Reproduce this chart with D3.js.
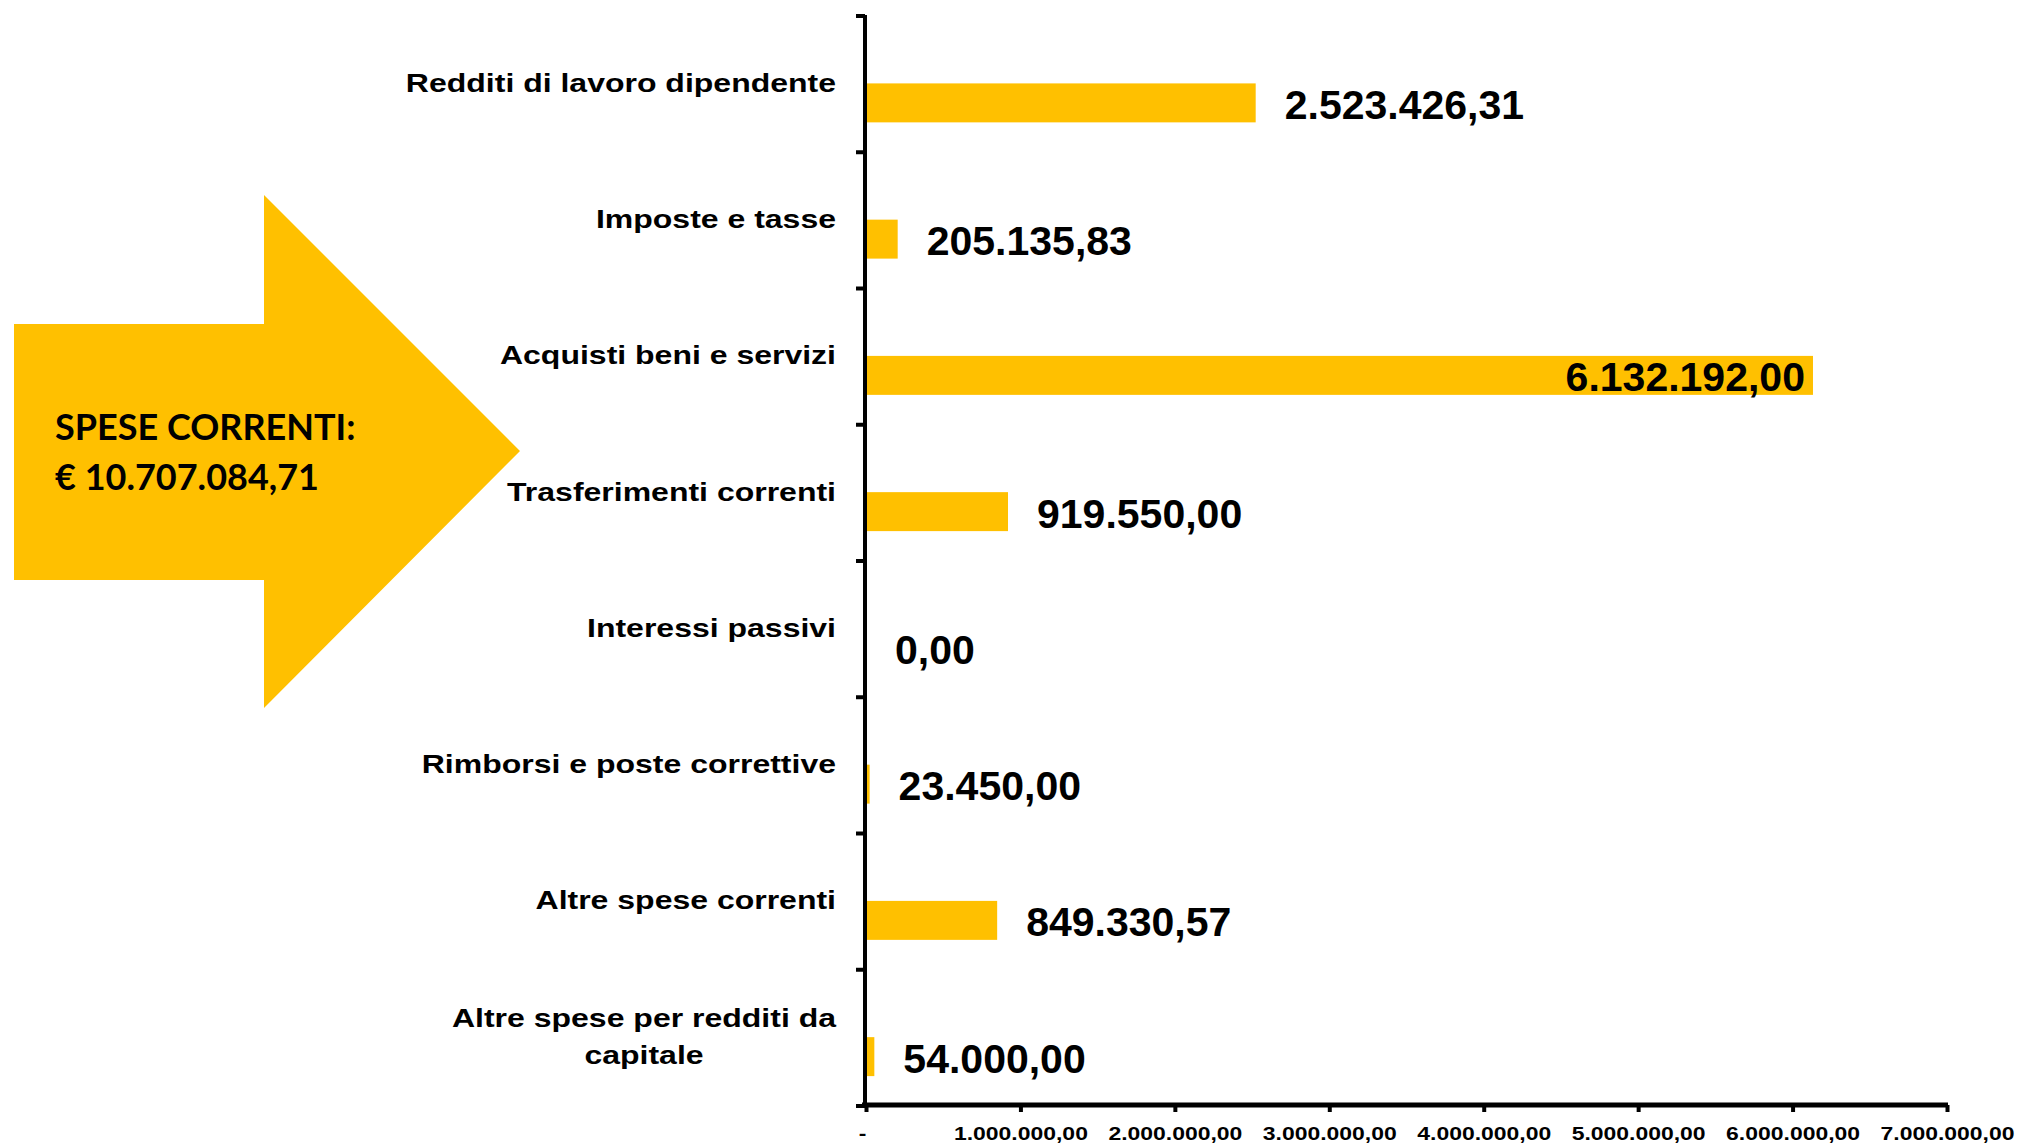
<!DOCTYPE html>
<html>
<head>
<meta charset="utf-8">
<script src="https://cdn.jsdelivr.net/npm/d3@7"></script>
<style>
  html, body { margin: 0; padding: 0; background: #fff; }
  svg { display: block; }
</style>
</head>
<body>
<svg id="chart" width="2022" height="1145"></svg>
<script>
// ---- data ----
const categories = [
  "Redditi di lavoro dipendente",
  "Imposte e tasse",
  "Acquisti beni e servizi",
  "Trasferimenti correnti",
  "Interessi passivi",
  "Rimborsi e poste correttive",
  "Altre spese correnti",
  "Altre spese per redditi da capitale"
];
const values = [2523426.31, 205135.83, 6132192.00, 919550.00, 0.00, 23450.00, 849330.57, 54000.00];
const xTickValues = [0, 1000000, 2000000, 3000000, 4000000, 5000000, 6000000, 7000000];
const calloutLines = ["SPESE CORRENTI:", "€ 10.707.084,71"];

// ---- setup ----
const W = 2022, H = 1145;
const svg = d3.select("#chart");
const gold = "#FFC000";
const pLeft = 866, pRight = 1947, pTop = 15, pBottom = 1105;

const it = d3.formatLocale({decimal: ",", thousands: ".", grouping: [3], currency: ["€ ", ""]});
const fmt = it.format(",.2f");

const x = d3.scaleLinear().domain([0, 7000000]).range([pLeft, pRight]);
const y = d3.scaleBand().domain(categories).range([pTop, pBottom]).padding(0);
const bw = y.bandwidth();
const barOff = 0.502 * bw, barH = 0.286 * bw;

// ---- callout arrow ----
const arrowPts = [[14,324],[264,324],[264,195],[520,451],[264,708],[264,580],[14,580]];
svg.append("polygon")
  .attr("points", arrowPts.map(p => p.join(",")).join(" "))
  .attr("fill", gold);
svg.append("g").selectAll("text").data(calloutLines).join("text")
  .attr("x", 55)
  .attr("y", (d, i) => 440 + i * 50)
  .attr("font-family", "Lato, 'Open Sans', sans-serif")
  .attr("font-weight", 700)
  .attr("font-size", 36)
  .attr("fill", "#000")
  .text(d => d);

// ---- bars ----
svg.append("g").selectAll("rect").data(values).join("rect")
  .attr("x", x(0))
  .attr("y", (d, i) => y(categories[i]) + barOff)
  .attr("width", d => x(d) - x(0))
  .attr("height", barH)
  .attr("fill", gold);

// ---- value labels ----
const vg = svg.append("g")
  .attr("font-family", "'Liberation Sans', Arial, sans-serif")
  .attr("font-weight", 700)
  .attr("font-size", 41)
  .attr("fill", "#000");
vg.selectAll("text").data(values).join("text")
  .attr("y", (d, i) => y(categories[i]) + barOff + barH / 2 + 2)
  .attr("dominant-baseline", "central")
  .text(d => fmt(d))
  .each(function(d) {
    const t = d3.select(this);
    const w = this.getComputedTextLength();
    const outside = x(d) + 29;
    if (outside + w > W - 5) {
      t.attr("x", x(d) - 8).attr("text-anchor", "end");
    } else {
      t.attr("x", outside).attr("text-anchor", "start");
    }
  });

// ---- category labels (wrapped like the original) ----
const catX = 836;
const cg = svg.append("g")
  .attr("font-family", "'Liberation Sans', Arial, sans-serif")
  .attr("font-weight", 700)
  .attr("font-size", 25.6)
  .attr("fill", "#000");
const sx = 1.25;
const maxW = 450;
categories.forEach(c => {
  const cy = y(c) + bw / 2;
  const g = cg.append("g").attr("transform", `translate(${catX},${cy}) scale(${sx},1)`);
  const words = c.split(" ");
  const measure = s => { const p = g.append("text").text(s); const ww = p.node().getComputedTextLength(); p.remove(); return ww; };
  let lines = [c];
  if (measure(c) * sx > maxW) {
    lines = [];
    let cur = [];
    words.forEach(wd => {
      const test = cur.concat(wd).join(" ");
      if (measure(test) * sx > maxW && cur.length) { lines.push(cur.join(" ")); cur = [wd]; }
      else cur.push(wd);
    });
    lines.push(cur.join(" "));
  }
  const lh = 37;
  const wMax = d3.max(lines.map(measure));
  lines.forEach((l, i) => {
    g.append("text")
      .attr("x", lines.length > 1 ? -wMax / 2 : 0)
      .attr("y", (i - (lines.length - 1) / 2) * lh)
      .attr("text-anchor", lines.length > 1 ? "middle" : "end")
      .attr("dominant-baseline", "central")
      .text(l);
  });
});

// ---- axes ----
const axisColor = "#000";
const yBounds = categories.map(c => y(c)).concat([pBottom]);
svg.append("line").attr("x1", pLeft - 1).attr("x2", pLeft - 1).attr("y1", pTop).attr("y2", pBottom + 2)
  .attr("stroke", axisColor).attr("stroke-width", 4);
svg.append("g").selectAll("line").data(yBounds).join("line")
  .attr("x1", pLeft - 10).attr("x2", pLeft - 1)
  .attr("y1", d => d + 1).attr("y2", d => d + 1)
  .attr("stroke", axisColor).attr("stroke-width", 4);

const xAxis = d3.axisBottom(x)
  .tickValues(xTickValues)
  .tickSize(7)
  .tickPadding(0)
  .tickFormat(d => d === 0 ? "-" : fmt(d));
const xg = svg.append("g").attr("transform", `translate(0,${pBottom})`).call(xAxis);
xg.select(".domain").attr("stroke", axisColor).attr("stroke-width", 5)
  .attr("d", `M${pLeft - 4},0H${pRight + 1}`);
xg.selectAll(".tick line").attr("stroke", axisColor).attr("stroke-width", 4);
xg.selectAll(".tick text").remove();
const tsx = 1.22;
xg.selectAll(".tick").each(function(d) {
  d3.select(this).append("g")
    .attr("transform", `translate(${d === 0 ? -4 : 0},28) scale(${tsx},1)`)
    .append("text")
    .attr("text-anchor", "middle")
    .attr("dominant-baseline", "central")
    .attr("font-family", "'Liberation Sans', Arial, sans-serif")
    .attr("font-weight", 700)
    .attr("font-size", 18.8)
    .attr("fill", "#000")
    .text(d === 0 ? "-" : fmt(d));
});
</script>
</body>
</html>
